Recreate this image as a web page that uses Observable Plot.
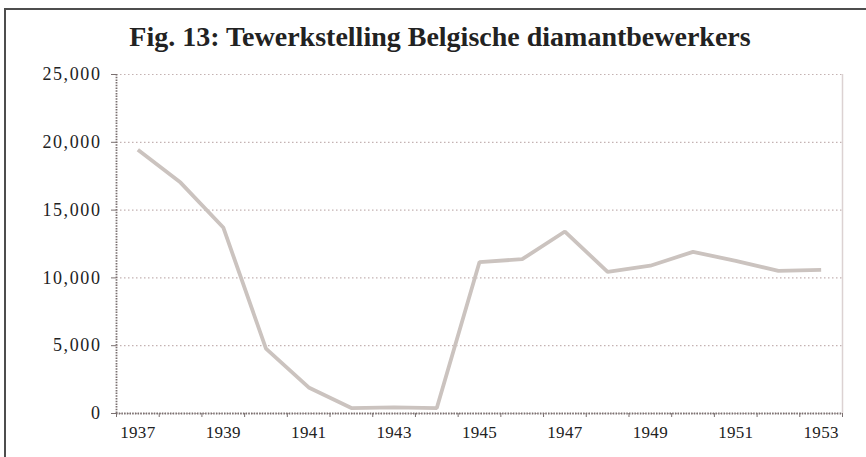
<!DOCTYPE html>
<html>
<head>
<meta charset="utf-8">
<script src="https://cdn.jsdelivr.net/npm/d3@7"></script>
<script src="https://cdn.jsdelivr.net/npm/@observablehq/plot@0.6"></script>
<style>
  html, body { margin: 0; padding: 0; background: #fff; }
  #wrap { position: relative; width: 866px; height: 457px; overflow: hidden; }
  #frame { position: absolute; left: 4px; top: 8px; width: 900px; height: 500px;
           border-top: 2px solid #4d4d4d; border-left: 2px solid #4d4d4d; pointer-events: none; }
  #title { box-sizing: border-box; height: 60px; padding-top: 22px; padding-left: 14px; line-height: 30px;
           text-align: center; font-family: "Liberation Serif", serif; font-weight: bold;
           font-size: 28px; color: #222; white-space: nowrap; }
  #chart svg { display: block; }
  #chart g[aria-label="y-axis tick label"] text { letter-spacing: 1.6px; }
  #chart g[aria-label="x-axis tick label"] text { letter-spacing: 0.3px; }
</style>
</head>
<body>
<div id="wrap">
  <div id="frame"></div>
  <div id="title">Fig. 13: Tewerkstelling Belgische diamantbewerkers</div>
  <div id="chart"></div>
</div>
<script>
const years = [1937, 1938, 1939, 1940, 1941, 1942, 1943, 1944, 1945, 1946, 1947, 1948, 1949, 1950, 1951, 1952, 1953];
const workers = [19450, 17030, 13720, 4790, 1920, 400, 450, 400, 11170, 11380, 13420, 10440, 10900, 11920, 11260, 10520, 10590];
const yTicks = [0, 5000, 10000, 15000, 20000, 25000];
const xLabels = [1937, 1939, 1941, 1943, 1945, 1947, 1949, 1951, 1953];

const data = years.map((y, i) => ({year: y, value: workers[i]}));
const first = years[0] - 0.5;
const last = years[years.length - 1] + 0.5;
const boundaries = [...years.map(y => y - 0.5), last];

const chart = Plot.plot({
  width: 866,
  height: 397,
  marginLeft: 116,
  marginRight: 24,
  marginTop: 14,
  marginBottom: 44,
  style: {fontFamily: "'Liberation Serif', serif", fontSize: "17px", color: "#222", background: "transparent"},
  x: {type: "linear", domain: [first, last]},
  y: {domain: [0, 25000]},
  marks: [
    Plot.gridY(yTicks, {stroke: "#c4b2b2", strokeOpacity: 1, strokeDasharray: "1.5,2.5", strokeWidth: 1.2}),
    Plot.ruleX([last], {stroke: "#dcd2d2", strokeWidth: 1.5}),
    Plot.ruleX([first], {stroke: "#7a7070", strokeWidth: 1.8, strokeDasharray: "1.5,1.2"}),
    Plot.axisY(yTicks, {tickSize: 5, tickPadding: 10, tickFormat: d3.format(","), stroke: "#7a7070", label: null, fontSize: 18, fill: "#222"}),
    Plot.axisX(boundaries, {tickSize: 4, tickFormat: () => "", stroke: "#7a7070", label: null}),
    Plot.axisX(xLabels, {tickSize: 0, tickPadding: 12, tickFormat: d => String(d), label: null, fontSize: 17, fill: "#222"}),
    Plot.ruleY([0], {stroke: "#7a7070", strokeWidth: 2, strokeDasharray: "1.5,1.2"}),
    Plot.line(data, {x: "year", y: "value", stroke: "#cbc3bf", strokeWidth: 3.8, strokeLinejoin: "miter", strokeLinecap: "butt"})
  ]
});
document.getElementById("chart").appendChild(chart);
</script>
</body>
</html>
